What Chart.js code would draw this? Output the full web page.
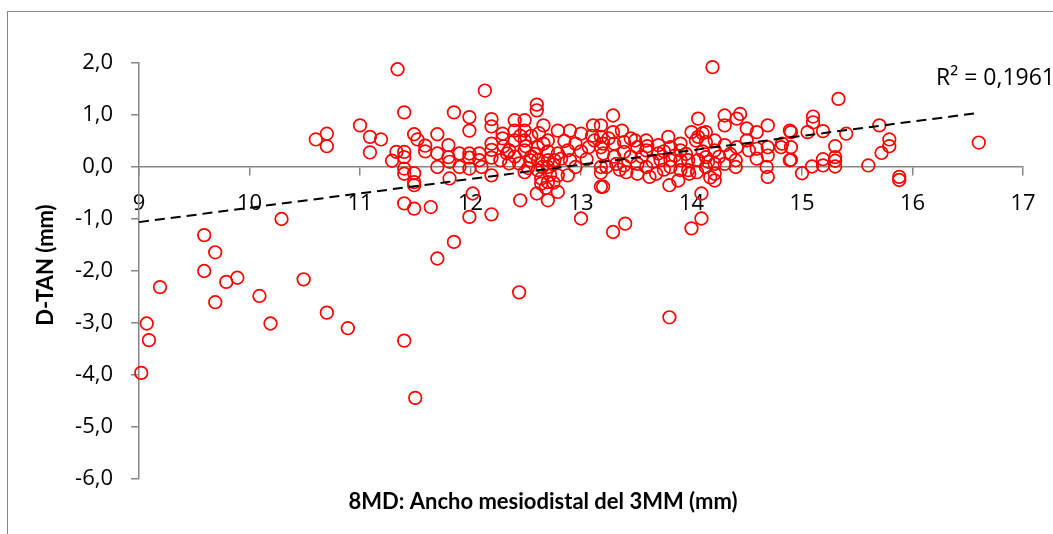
<!DOCTYPE html>
<html>
<head>
<meta charset="utf-8">
<script src="https://cdn.jsdelivr.net/npm/chart.js@4.4.1/dist/chart.umd.min.js"></script>
<style>
  body { margin: 0; background: #fff; }
  #wrap { width: 1053px; height: 534px; }
</style>
</head>
<body>
<div id="wrap"><canvas id="scatter" width="1053" height="534"></canvas></div>
<script>
// 8MD (mm) values
var anchoMD = [
  10.60, 10.70, 10.70, 10.29, 9.59, 9.69, 9.59, 9.19, 9.79, 9.89, 9.69, 10.09, 10.49, 9.07, 10.19, 10.70, 10.89, 9.09, 9.02,
  11.70, 12.44, 13.80, 11.40, 11.50,
  11.34, 12.13, 11.40, 11.85, 11.99, 11.99, 12.19, 12.19, 12.29, 12.29, 11.00, 11.09, 11.19, 11.09, 11.49, 11.52, 11.59, 11.59,
  11.70, 11.33, 11.40, 11.40, 11.29, 11.40, 11.40, 11.49, 11.49, 11.49, 11.70, 11.70, 11.80, 11.80, 11.81, 11.81, 11.90, 11.90,
  11.99, 11.99, 11.99, 12.08, 12.08, 12.10, 12.19, 12.19, 12.19, 12.19, 12.27, 12.33, 11.40, 11.49, 11.64, 11.99, 12.19, 12.02, 11.85,
  12.60, 12.60, 12.40, 12.49, 12.40, 12.49, 12.40, 12.49, 12.66, 12.70, 12.79, 12.90, 13.00, 13.11, 13.12, 13.18,
  12.35, 12.49, 12.61, 12.70, 12.79, 12.88, 13.00, 13.07, 13.18, 12.35, 12.44, 12.54, 12.61, 12.70, 12.76, 12.82, 12.90,
  13.18, 13.18, 12.49, 12.61, 12.70, 12.64, 12.70, 12.64, 12.79, 12.88, 13.18, 12.45, 12.60, 12.70, 12.79, 13.00,
  12.55, 12.58, 12.66, 12.75, 12.85, 12.95, 13.05, 12.40, 12.52, 12.68, 12.75, 12.95, 12.45, 12.62, 13.10, 12.30, 12.50, 12.55, 12.65, 12.72,
  13.29, 13.29, 13.37, 13.18, 13.20, 13.20, 13.30, 13.39, 13.39, 13.49, 13.51, 13.59, 13.59, 13.70, 13.70, 13.79, 13.81, 13.90, 13.90, 14.00, 14.04,
  13.23, 13.32, 13.39, 13.41, 13.51, 13.51, 13.59, 13.62, 13.68, 13.72, 13.81, 13.81, 13.90, 13.90, 13.97, 13.97, 13.80, 13.88, 13.98,
  13.20, 13.29, 13.40, 14.00,
  13.45, 13.55, 13.65, 13.75, 13.85, 13.30, 13.25, 13.45, 13.60, 13.95, 13.35, 13.75,
  14.19, 14.06, 14.30, 14.30, 14.44, 14.41, 14.50, 14.59, 14.69, 14.89, 14.06, 14.13, 14.13, 14.21, 14.21, 14.30, 14.41, 14.50, 14.52, 14.59,
  14.69, 14.69, 14.82, 14.81, 14.89, 14.06, 14.13, 14.13, 14.21, 14.21, 14.21, 14.30, 14.40, 14.40, 14.59, 14.68, 14.69, 14.09, 14.09,
  14.10, 14.15, 14.25, 14.05, 14.17, 14.35, 14.10,
  15.33, 15.10, 15.10, 14.90, 15.05, 15.19, 15.40, 15.70, 15.79, 15.79, 15.72, 15.30, 15.30, 15.30, 15.19, 15.19, 15.30, 15.09,
  14.90, 14.90, 15.00, 15.60, 15.88, 15.88, 16.60
];
// D-TAN (mm) values
var dTan = [
  0.53, 0.64, 0.40, -1.00, -1.31, -1.64, -2.00, -2.31, -2.21, -2.13, -2.60, -2.48, -2.16, -3.01, -3.01, -2.80, -3.10, -3.33, -3.96,
  -1.76, -2.41, -2.89, -3.34, -4.44,
  1.88, 1.47, 1.05, 1.05, 0.96, 0.70, 0.92, 0.78, 0.64, 0.55, 0.80, 0.58, 0.53, 0.28, 0.63, 0.53, 0.41, 0.30,
  0.63, 0.29, 0.29, 0.19, 0.12, -0.03, -0.13, -0.12, -0.29, -0.35, 0.26, 0.00, 0.42, 0.19, 0.10, -0.22, 0.26, 0.00,
  0.26, 0.18, -0.03, 0.26, 0.13, 0.00, 0.45, 0.33, 0.18, -0.16, 0.13, 0.26, -0.70, -0.80, -0.77, -0.96, -0.91, -0.51, -1.44,
  1.20, 1.09, 0.90, 0.90, 0.70, 0.70, 0.51, 0.51, 0.80, 0.51, 0.70, 0.70, 0.64, 0.80, 0.51, 0.58,
  0.32, 0.32, 0.38, 0.30, 0.26, 0.32, 0.30, 0.38, 0.38, 0.07, 0.07, 0.13, 0.13, 0.13, 0.13, 0.16, 0.13,
  0.00, -0.11, -0.10, -0.06, 0.00, -0.22, -0.29, -0.32, -0.16, -0.16, -0.38, -0.64, -0.51, -0.64, -0.48, -0.99,
  0.60, 0.25, 0.45, 0.05, 0.50, 0.45, 0.15, 0.20, -0.02, -0.40, -0.30, 0.00, 0.60, 0.65, 0.60, 0.40, 0.40, 0.20, 0.00, -0.15,
  0.99, 0.67, 0.70, 0.80, 0.45, 0.26, 0.45, 0.48, 0.29, 0.51, 0.38, 0.51, 0.32, 0.42, 0.26, 0.58, 0.38, 0.45, 0.32, 0.67, 0.51,
  0.00, 0.06, 0.03, -0.10, 0.06, -0.13, 0.00, -0.19, -0.13, 0.13, 0.13, 0.00, 0.13, -0.06, 0.13, -0.06, -0.35, -0.26, -0.13,
  -0.38, -1.25, -1.09, -1.18,
  0.20, 0.20, 0.10, 0.30, 0.22, 0.20, 0.55, 0.55, 0.40, 0.25, -0.05, -0.05,
  1.92, 0.93, 0.99, 0.80, 1.02, 0.93, 0.74, 0.67, 0.80, 0.70, 0.58, 0.67, 0.48, 0.51, 0.32, 0.42, 0.38, 0.51, 0.32, 0.35,
  0.38, 0.22, 0.45, 0.38, 0.13, 0.13, 0.19, 0.00, 0.06, -0.13, -0.26, 0.06, 0.00, 0.13, 0.16, 0.00, -0.19, -0.51, -0.99,
  0.30, 0.10, 0.20, -0.10, -0.20, 0.25, 0.65,
  1.31, 0.97, 0.86, 0.67, 0.67, 0.69, 0.64, 0.80, 0.53, 0.40, 0.27, 0.40, 0.19, 0.12, 0.15, 0.03, 0.01, 0.01,
  0.38, 0.14, -0.12, 0.03, -0.19, -0.25, 0.47
];
// linear trendline ends
var trendX = [9, 16.6];
var trendY = [-1.06, 1.04];
var r2Text = 'R² = 0,1961';

var axisGrey = '#868686';
var tickFont = "'Open Sans', sans-serif";
var titleFont = "Lato, 'Open Sans', sans-serif";

var points = anchoMD.map(function(x, i) { return { x: x, y: dTan[i] }; });
var trend = trendX.map(function(x, i) { return { x: x, y: trendY[i] }; });

var extras_plug = {
  id: 'extras',
  beforeDraw: function(chart) {
    var ctx = chart.ctx;
    ctx.save();
    ctx.strokeStyle = axisGrey;
    ctx.lineWidth = 1;
    ctx.strokeRect(7.5, 11.5, 1200, 700);
    ctx.restore();
  },
  afterDraw: function(chart) {
    var ctx = chart.ctx;
    ctx.save();
    ctx.fillStyle = '#000';
    ctx.textBaseline = 'middle';

    //axis titles
    ctx.font = "bold 22px " + titleFont;
    ctx.textAlign = 'center';
    ctx.fillText('8MD: Ancho mesiodistal del 3MM (mm)', 543, 502);
    ctx.save();
    ctx.translate(46, 265);
    ctx.rotate(-Math.PI / 2);
    ctx.fillText('D-TAN (mm)', 0, 0);
    ctx.restore();

    //r squared label
    ctx.font = "23px " + tickFont;
    ctx.textAlign = 'left';
    ctx.fillText(r2Text, 936, 78);
    ctx.restore();
  }
};

var ctx = document.getElementById('scatter').getContext('2d');
var chart = new Chart(ctx, {
  type: 'scatter',
  plugins: [extras_plug],
  data: {
    datasets: [{
      type: 'line',
      data: trend,
      borderColor: '#000',
      borderWidth: 2,
      borderDash: [10, 6],
      pointRadius: 0,
      fill: false,
      clip: false
    }, {
      data: points,
      pointRadius: 6.3,
      pointBorderWidth: 1.7,
      borderColor: '#ff0000',
      backgroundColor: 'rgba(0,0,0,0)',
      clip: false
    }]
  },
  options: {
    responsive: false,
    animation: false,
    events: [],
    layout: { padding: { top: 63, right: 30, bottom: 55, left: 0 } },
    plugins: {
      legend: { display: false },
      tooltip: { enabled: false }
    },
    scales: {
      x: {
        type: 'linear',
        position: { y: 0 },
        min: 9,
        max: 17,
        ticks: {
          stepSize: 1,
          padding: 16,
          color: '#000',
          font: { size: 22, family: tickFont }
        },
        grid: { drawOnChartArea: false, tickLength: 8, color: axisGrey, lineWidth: 1.5 },
        border: { color: axisGrey, width: 1.5 }
      },
      y: {
        min: -6,
        max: 2,
        ticks: {
          stepSize: 1,
          padding: 18,
          color: '#000',
          font: { size: 22, family: tickFont },
          callback: function(v) { return Number(v).toFixed(1).replace('.', ','); }
        },
        grid: { drawOnChartArea: false, tickLength: 8, color: axisGrey, lineWidth: 1.5 },
        border: { color: axisGrey, width: 1.5 },
        afterFit: function(scale) { scale.width = 139; }
      }
    }
  }
});
</script>
</body>
</html>
